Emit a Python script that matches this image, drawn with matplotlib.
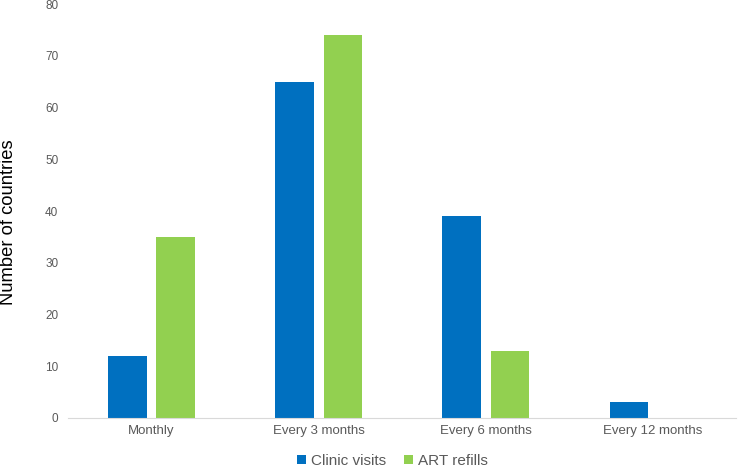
import matplotlib.pyplot as plt
import numpy as np

categories = ['Monthly', 'Every 3 months', 'Every 6 months', 'Every 12 months']
clinic_visits = [12, 65, 39, 3]
art_refills = [35, 74, 13, 0]

plt.rcParams['font.family'] = ['Liberation Sans', 'DejaVu Sans']

fig = plt.figure(figsize=(7.4, 4.69), dpi=100)
ax = fig.add_axes([0.092, 0.109, 0.903, 0.882])

x = np.arange(len(categories))
w = 0.23
ax.bar(x - 0.144, clinic_visits, w, color='#0070C0', label='Clinic visits')
ax.bar(x + 0.144, art_refills, w, color='#92D050', label='ART refills')

ax.set_xlim(-0.5, len(categories) - 0.5)
ax.set_ylim(0, 80)
ax.set_yticks(range(0, 81, 10))
ax.set_xticks(x)
ax.set_xticklabels(categories, fontsize=9.5, color='#595959')
ax.tick_params(axis='y', labelsize=8.5, colors='#595959', length=0, pad=7)
ax.tick_params(axis='x', length=0, pad=5)

for s in ['top', 'right', 'left']:
    ax.spines[s].set_visible(False)
ax.spines['bottom'].set_color('#D9D9D9')

# y label placed in figure coords to match reference position
fig.text(9 / 740, 1 - 222 / 469, 'Number of countries', rotation=90,
         ha='center', va='center', fontsize=13.2, color='black')

ax.legend(loc='center', bbox_to_anchor=(0.485, -0.104), ncol=2, frameon=False,
          fontsize=11, handlelength=0.6, handleheight=0.6, handletextpad=0.3,
          columnspacing=1.2, labelcolor='#595959', borderpad=0)

fig.savefig('out.png', dpi=100)
